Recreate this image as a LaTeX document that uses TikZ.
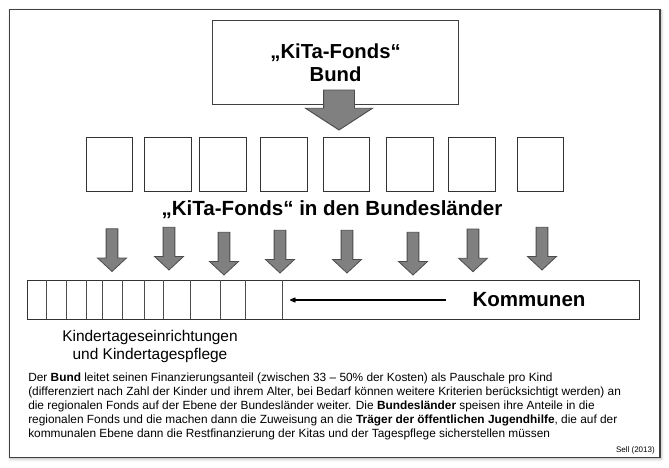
\documentclass[tikz,border=0pt]{standalone}
\usepackage{fontspec}
\setmainfont{Liberation Sans}
\usetikzlibrary{shapes.arrows, arrows.meta, positioning, shadows.blur}

\begin{document}
\begin{tikzpicture}[
    x=0.75pt, y=-0.75pt,
    >=Stealth,
    font=\fontsize{9.1}{13.5}\selectfont,
    frame/.style={rectangle, draw=black!75, line width=0.9pt, fill=white, blur shadow={shadow xshift=1pt, shadow yshift=-1pt, shadow blur steps=4, shadow opacity=30}},
    bundbox/.style={rectangle, draw=black!75, fill=white, line width=0.8pt, minimum width=184.5pt, minimum height=63pt, align=center, inner sep=0pt, font=\bfseries\fontsize{15.2}{16}\selectfont},
    fondsbox/.style={rectangle, draw=black!80, fill=white, line width=0.8pt, minimum width=34.9pt, minimum height=40.5pt, inner sep=0pt},
    bar/.style={rectangle, draw=black!80, fill=white, line width=0.7pt, minimum width=459.2pt, minimum height=29.25pt, inner sep=0pt},
    cell/.style={draw=black!70, line width=0.6pt},
    heading/.style={font=\bfseries\fontsize{15.4}{18}\selectfont, inner sep=0pt},
    bigarrow/.style={single arrow, rotate=-90, draw=black!70, fill=black!50, line width=0.7pt, inner xsep=0pt, inner ysep=11.25pt, outer sep=0pt, minimum height=30pt, single arrow head extend=13.5pt, single arrow tip angle=114, single arrow head indent=0pt},
    landarrow/.style={single arrow, rotate=-90, draw=black!70, fill=black!50, line width=0.6pt, inner xsep=0pt, inner ysep=4.1pt, outer sep=0pt, minimum height=32pt, single arrow head extend=6.4pt, single arrow tip angle=94, single arrow head indent=0pt},
    komarrow/.style={->, line width=0.9pt, >={Stealth[length=6pt, width=5pt, open, round]}}
]
\useasboundingbox (0,0) rectangle (669,468);

% ---- Frame ----
\node[frame, minimum width=488.2pt, minimum height=336pt, anchor=north west] (rahmen) at (8.5,9) {};

% ---- Bund ----
\node[bundbox, anchor=north west] (bund) at (212,20) {„KiTa-Fonds“\\[1pt]Bund};
\node[bigarrow, anchor=tip] (bundarrow) at (339,130) {};

% ---- Laender ----
\foreach \i/\x in {1/85.7, 2/144, 3/199.3, 4/260.3, 5/322.7, 6/386, 7/448, 8/516.7}
    \node[fondsbox, anchor=north west] (land\i) at (\x,137) {};

\node[heading] (landlabel) at (332,210) {„KiTa-Fonds“ in den Bundesländer};

\foreach \i/\x/\y in {1/112/271.5, 2/169/270, 3/224/275, 4/280/273, 5/347/273, 6/413/275, 7/473/271.7, 8/542/270}
    \node[landarrow, anchor=tip] (arr\i) at (\x,\y) {};

% ---- Kommunen ----
\node[bar, anchor=north west] (kombar) at (26.7,280) {};
\foreach \x in {46, 66.7, 86.3, 102.7, 122.3, 144, 163.7, 190.3, 220.3, 245.7, 282.7}
    \draw[cell] (\x,280) -- (\x,319);

\node[heading] (kommunen) at (529,300) {Kommunen};
\coordinate (komtail) at (446,300);
\coordinate (komhead) at (290,300);
\draw[komarrow] (komtail) -- (komhead);

\node[align=center, inner sep=0pt, font=\fontsize{11.6}{13.5}\selectfont] (kitas) at (150,346) {Kindertageseinrichtungen\\und Kindertagespflege};

% ---- Erlaeuterung ----
\node[align=left, anchor=north west, inner sep=0pt, font=\fontsize{8.9}{10.5}\selectfont] (text) at (28,372.5) {Der \textbf{Bund} leitet seinen Finanzierungsanteil (zwischen 33 – 50\% der Kosten) als Pauschale pro Kind\\
(differenziert nach Zahl der Kinder und ihrem Alter, bei Bedarf können weitere Kriterien berücksichtigt werden) an\\
die regionalen Fonds auf der Ebene der Bundesländer weiter. Die \textbf{Bundesländer} speisen ihre Anteile in die\\
regionalen Fonds und die machen dann die Zuweisung an die \textbf{Träger der öffentlichen Jugendhilfe}, die auf der\\
kommunalen Ebene dann die Restfinanzierung der Kitas und der Tagespflege sicherstellen müssen};
\node[anchor=east, inner sep=0pt, font=\fontsize{6}{7}\selectfont] (quelle) at (655,450) {Sell (2013)};

\end{tikzpicture}
\end{document}
